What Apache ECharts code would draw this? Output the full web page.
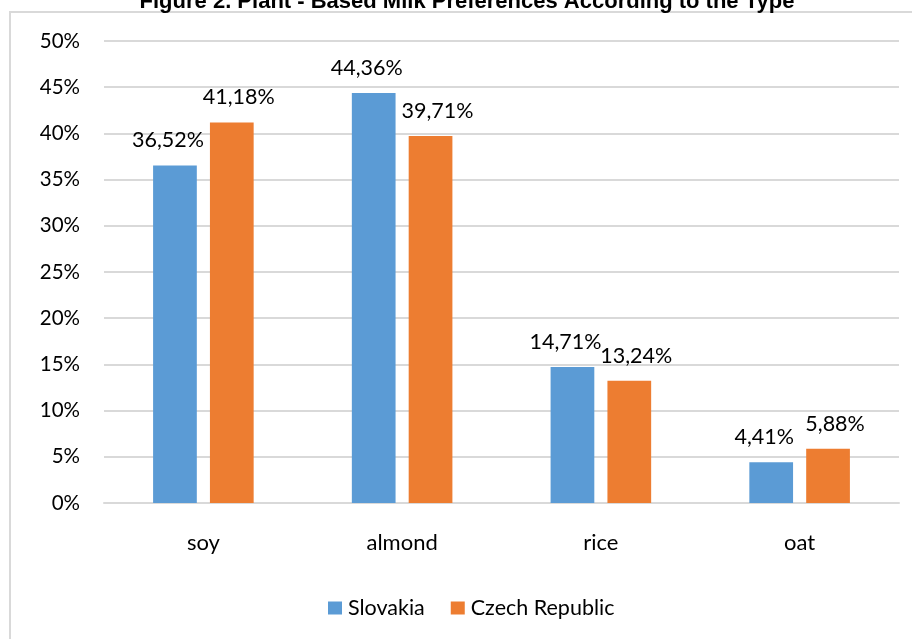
<!DOCTYPE html>
<html>
<head>
<meta charset="utf-8">
<script src="https://cdn.jsdelivr.net/npm/echarts@6/dist/echarts.min.js"></script>
<style>
  html, body { margin: 0; padding: 0; background: #fff; }
  #chart { width: 912px; height: 639px; }
</style>
</head>
<body>
<div id="chart"></div>
<script>
// Plant-based milk preferences by type, share of respondents (%)
const categories = ['soy', 'almond', 'rice', 'oat'];
const slovakia = [36.52, 44.36, 14.71, 4.41];
const czechRepublic = [41.18, 39.71, 13.24, 5.88];
const seriesNames = ['Slovakia', 'Czech Republic'];
const chartTitle = 'Figure 2. Plant - Based Milk Preferences According to the Type';

const FONT = 'Lato, "Open Sans", sans-serif';
const fmtPct = v => v.toFixed(2).replace('.', ',') + '%';

const chart = echarts.init(document.getElementById('chart'), null, { renderer: 'canvas' });

// value labels sit above each bar, nudged apart so neighbours don't collide
const makeLabel = dx => ({
  show: true,
  position: 'top',
  distance: 14,
  offset: [dx, 0],
  color: '#000',
  fontFamily: FONT,
  fontSize: 21.5,
  formatter: p => fmtPct(p.value)
});

chart.setOption({
  animation: false,
  backgroundColor: '#fff',
  graphic: [
    {
      type: 'rect',
      shape: { x: 10, y: 12, width: 960, height: 700 },
      style: { fill: 'none', stroke: '#d9d9d9', lineWidth: 2 },
      silent: true,
      z: -1
    },
    {
      type: 'text',
      x: 467,
      y: 13,
      style: {
        text: chartTitle,
        fill: '#000',
        font: 'bold 22px Arial, "Liberation Sans", sans-serif',
        textAlign: 'center',
        textVerticalAlign: 'bottom'
      },
      silent: true
    }
  ],
  grid: { left: 104, right: 13, top: 41, bottom: 136 },
  legend: {
    data: seriesNames,
    bottom: 20,
    left: 328,
    padding: 0,
    itemWidth: 14,
    itemHeight: 13,
    itemGap: 26,
    icon: 'rect',
    textStyle: { fontFamily: FONT, fontSize: 21.5, color: '#000', padding: [0, 0, 0, 1] }
  },
  xAxis: {
    type: 'category',
    data: categories,
    axisLine: { lineStyle: { color: '#d9d9d9', width: 2 } },
    axisTick: { show: false },
    axisLabel: { fontFamily: FONT, fontSize: 22, color: '#000', margin: 29 }
  },
  yAxis: {
    type: 'value',
    min: 0,
    max: 50,
    interval: 5,
    axisLine: { show: false },
    axisTick: { show: false },
    axisLabel: { fontFamily: FONT, fontSize: 20.5, color: '#000', margin: 24, formatter: '{value}%' },
    splitLine: { lineStyle: { color: '#d9d9d9', width: 2 } }
  },
  series: [
    {
      name: seriesNames[0],
      type: 'bar',
      data: slovakia,
      barWidth: '22%',
      barGap: '30%',
      itemStyle: { color: '#5b9bd5' },
      label: makeLabel(-7)
    },
    {
      name: seriesNames[1],
      type: 'bar',
      data: czechRepublic,
      barWidth: '22%',
      itemStyle: { color: '#ed7d31' },
      label: makeLabel(7)
    }
  ]
});
</script>
</body>
</html>
